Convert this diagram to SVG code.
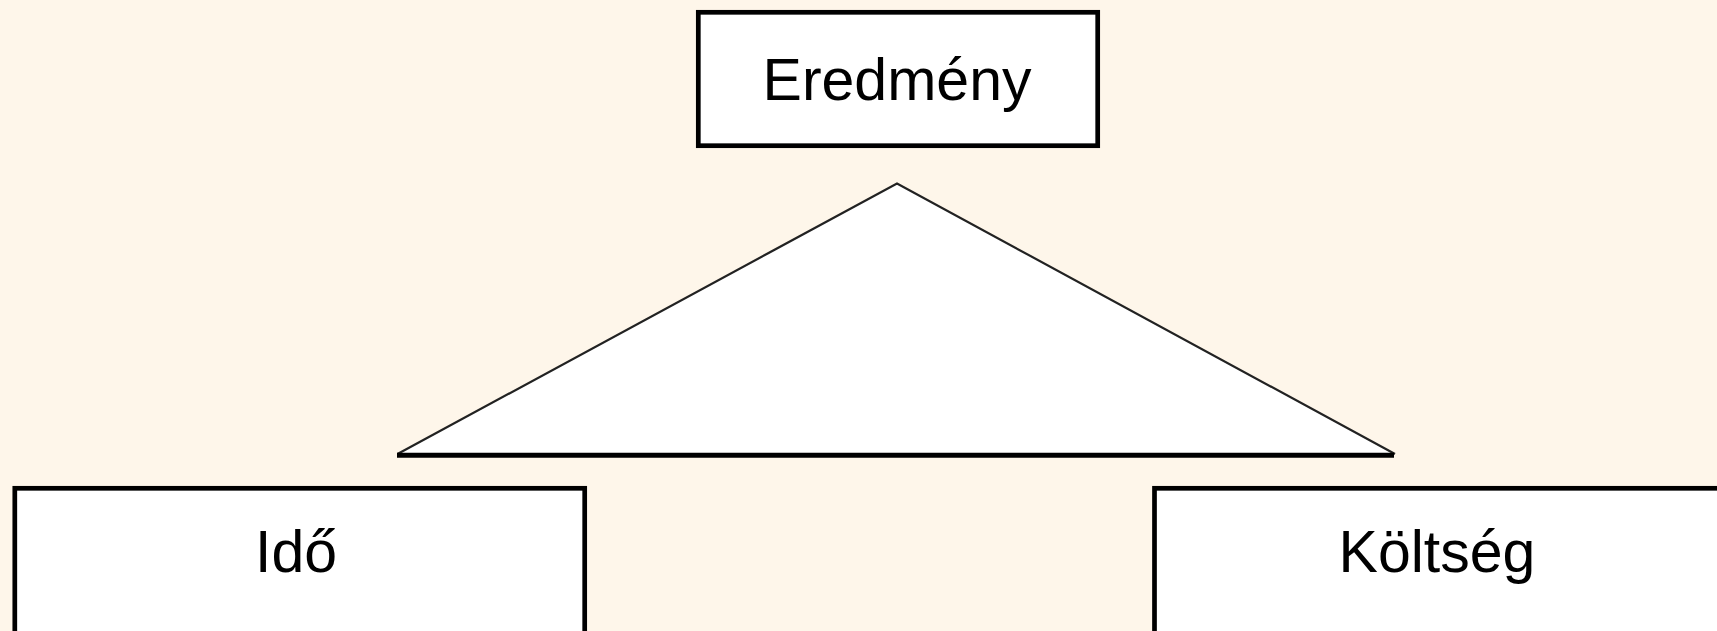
<svg xmlns="http://www.w3.org/2000/svg" width="1717" height="631" viewBox="0 0 1717 631">
  <style>
    .box { fill: #ffffff; stroke: #000000; stroke-width: 4.7; }
    .lbl { font-family: "Liberation Sans", Arial, sans-serif; font-size: 59px; fill: #000000; text-anchor: middle; }
    .side { fill: none; stroke: #222222; stroke-width: 2.2; stroke-linejoin: miter; }
    .base { stroke: #000000; stroke-width: 5; }
  </style>
  <rect x="0" y="0" width="1717" height="631" fill="#fef6ea"/>
  <g id="connectors">
    <polygon points="897,183.5 397.5,455 1395,455" fill="#ffffff" stroke="none"/>
    <polyline class="side" points="397.5,454 897,183.5 1395,454"/>
    <line class="base" x1="397" y1="455.3" x2="1394" y2="455.3"/>
  </g>
  <g id="node-eredmeny">
    <rect class="box" x="698.3" y="12.3" width="399.4" height="133.4"/>
    <text class="lbl" x="897" y="100">Eredmény</text>
  </g>
  <g id="node-ido">
    <rect class="box" x="14.8" y="488.3" width="569.9" height="200"/>
    <text class="lbl" x="296" y="572">Idő</text>
  </g>
  <g id="node-koltseg">
    <rect class="box" x="1154.5" y="488.3" width="600" height="200"/>
    <text class="lbl" x="1437" y="572">Költség</text>
  </g>
</svg>
